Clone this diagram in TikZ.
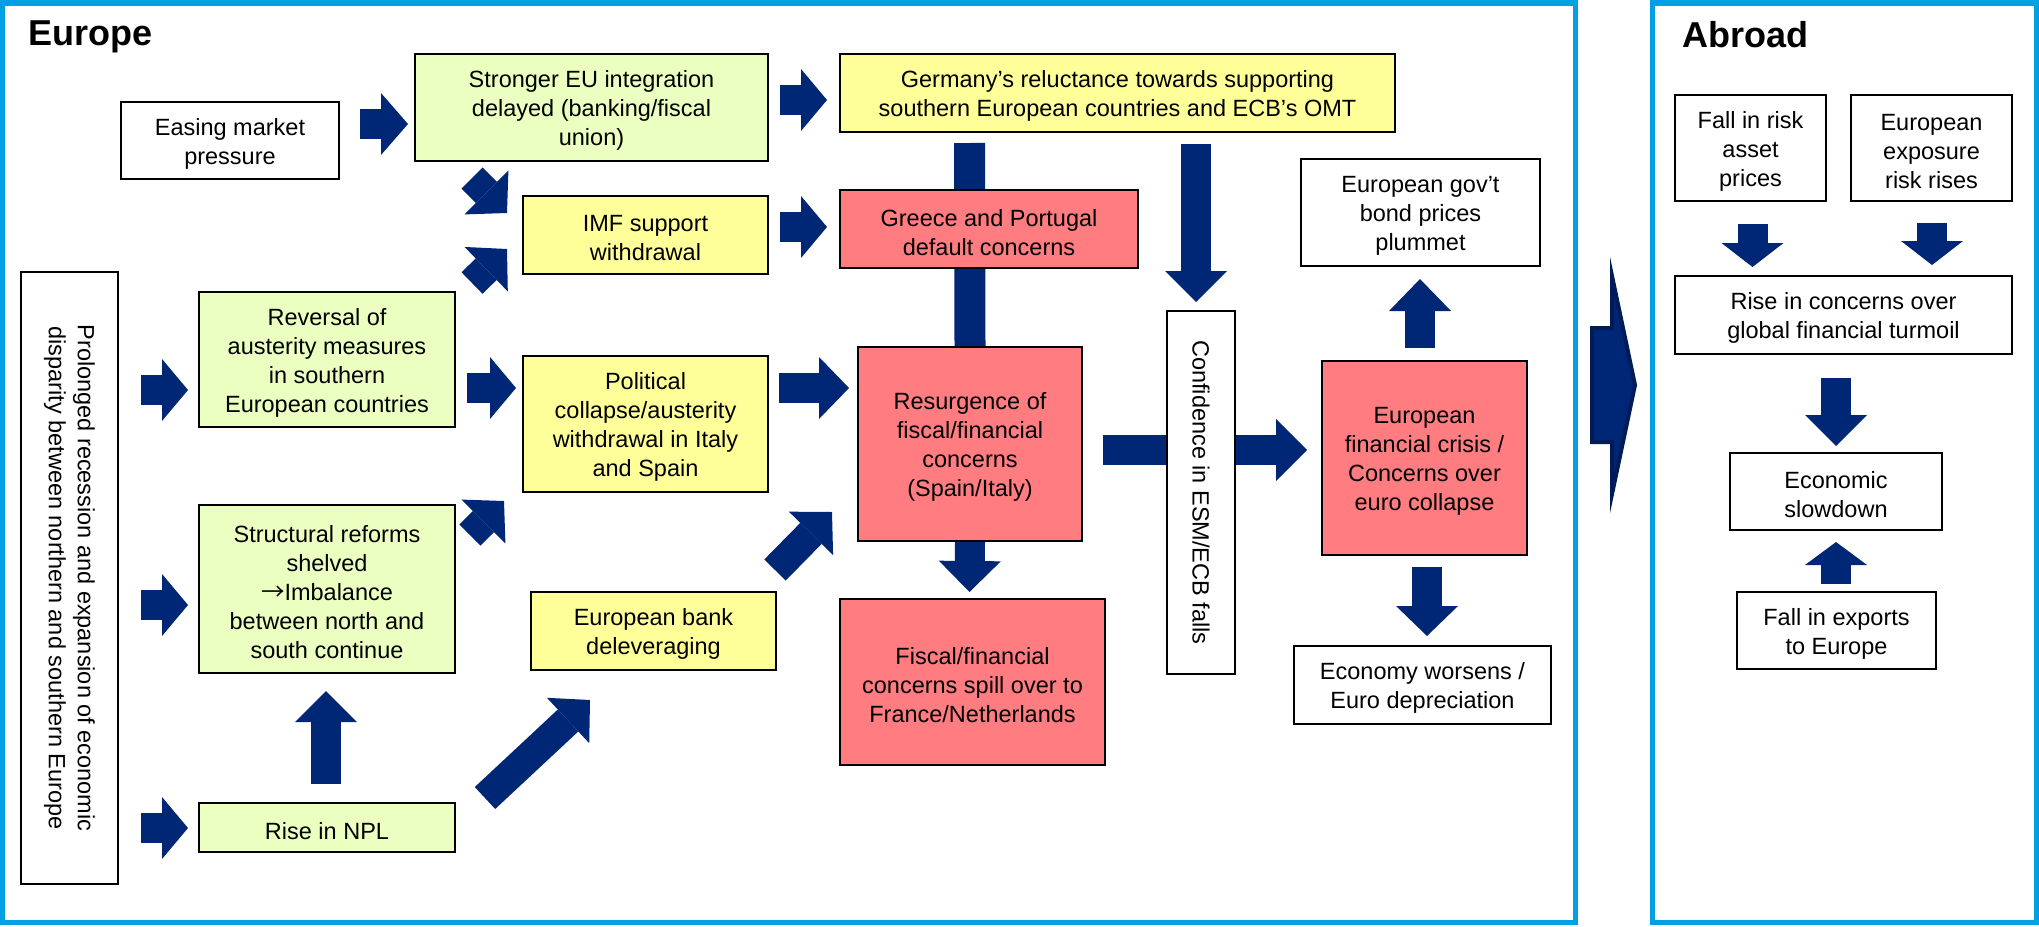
\documentclass[tikz,border=0pt]{standalone}
\usepackage{fontspec}
\setmainfont{Liberation Sans}
\newfontfamily\cjkarrow{Noto Sans CJK JP}
\usetikzlibrary{arrows.meta}
\definecolor{navy}{RGB}{0,38,118}
\definecolor{navydark}{RGB}{0,28,88}
\definecolor{frameblue}{RGB}{0,160,226}
\definecolor{lgreen}{RGB}{235,255,193}
\definecolor{lyellow}{RGB}{255,255,153}
\definecolor{lred}{RGB}{255,124,128}
\pgfdeclarelayer{back}
\pgfsetlayers{back,main}
% \bx{name}{style}{x1}{y1}{x2}{y2}{text}
\newcommand\bx[7]{\node[#2, minimum width={(#5-#3)*0.5pt}, minimum height={(#6-#4)*0.5pt}] (#1) at ({(#3+#5)/2},{(#4+#6)/2}) {};
  \node[txt] (#1-text) at ([yshift=-1.6pt]#1.center) {#7};}
\begin{document}
\begin{tikzpicture}[x=0.5pt,y=-0.5pt,
  box/.style={draw=black, line width=1pt, inner sep=0pt},
  txt/.style={align=center, inner sep=0pt, font=\fontsize{11.75}{14.5}\selectfont},
  gbox/.style={box, fill=lgreen},
  ybox/.style={box, fill=lyellow},
  rbox/.style={box, fill=lred},
  wbox/.style={box, fill=white},
  rot/.style={txt, rotate=-90},
  blk/.style={draw=navy, line width=15pt, -{Triangle[width=31pt,length=#1,line width=0pt]}},
  blk/.default=14pt,
  bar/.style={draw=navy, line width=15.5pt},
  frame/.style={draw=frameblue, line width=2.5pt, inner sep=0pt},
  title/.style={font=\fontsize{18}{21}\selectfont\bfseries, anchor=base west, inner sep=0pt},
  bigarrow/.style={fill=navy, draw=navydark, line width=2pt, line join=miter}
]
\useasboundingbox (0,0) rectangle (2039,926);

% frames
\bx{europeframe}{frame}{2.5}{3}{1575.5}{922}{}
\bx{abroadframe}{frame}{1652.5}{3}{2036}{922}{}
\node[title] (europetitle) at (28,46) {Europe};
\node[title] (abroadtitle) at (1682,47) {Abroad};

% Europe boxes
\bx{easing}{wbox}{121}{102}{339}{179}{Easing market\\pressure}
\bx{stronger}{gbox}{415}{54}{768}{161}{Stronger EU integration\\delayed (banking/fiscal\\union)}
\bx{germany}{ybox}{840}{54}{1395}{132}{Germany’s reluctance towards supporting\\southern European countries and ECB’s OMT}
\bx{imf}{ybox}{523}{196}{768}{274}{IMF support\\withdrawal}
\bx{greece}{rbox}{840}{190}{1138}{268}{Greece and Portugal\\default concerns}
\bx{prolonged}{wbox}{21}{272}{118}{884}{}
\node[rot] (prolongedtext) at (prolonged.center) {Prolonged recession and expansion of economic\\disparity between northern and southern Europe};
\bx{reversal}{gbox}{199}{292}{455}{427}{Reversal of\\austerity measures\\in southern\\European countries}
\bx{political}{ybox}{523}{356}{768}{492}{Political\\collapse/austerity\\withdrawal in Italy\\and Spain}
\bx{resurgence}{rbox}{858}{347}{1082}{541}{Resurgence of\\fiscal/financial\\concerns\\(Spain/Italy)}
\bx{structural}{gbox}{199}{505}{455}{673}{Structural reforms\\shelved\\{\cjkarrow →}Imbalance\\between north and\\south continue}
\bx{bank}{ybox}{531}{592}{776}{670}{European bank\\deleveraging}
\bx{spill}{rbox}{840}{599}{1105}{765}{Fiscal/financial\\concerns spill over to\\France/Netherlands}
\bx{npl}{gbox}{199}{803}{455}{852}{Rise in NPL}
\bx{confidence}{wbox}{1167}{311}{1235}{674}{}
\node[rot] (confidencetext) at (confidence.center) {Confidence in ESM/ECB falls};
\bx{bond}{wbox}{1301}{159}{1540}{266}{European gov’t\\bond prices\\plummet}
\bx{crisis}{rbox}{1322}{361}{1527}{555}{European\\financial crisis /\\Concerns over\\euro collapse}
\bx{worsens}{wbox}{1294}{646}{1551}{724}{Economy worsens /\\Euro depreciation}

% Abroad boxes
\bx{fallrisk}{wbox}{1675}{95}{1826}{201}{Fall in risk\\asset\\prices}
\bx{exposure}{wbox}{1851}{95}{2012}{201}{European\\exposure\\risk rises}
\bx{rise}{wbox}{1675}{276}{2012}{354}{Rise in concerns over\\global financial turmoil}
\bx{slowdown}{wbox}{1730}{453}{1942}{530}{Economic\\slowdown}
\bx{exports}{wbox}{1737}{592}{1936}{669}{Fall in exports\\to Europe}

% arrow end points
\coordinate (a1s) at (360,124);   \coordinate (a1e) at (408,124);
\coordinate (a2s) at (780,100);   \coordinate (a2e) at (827,100);
\coordinate (a3s) at (780,227);   \coordinate (a3e) at (827,227);
\coordinate (a4s) at (779,388);   \coordinate (a4e) at (849,388);
\coordinate (a5s) at (467,388);   \coordinate (a5e) at (516,388);
\coordinate (a6s) at (141,390);   \coordinate (a6e) at (188,390);
\coordinate (a7s) at (141,605);   \coordinate (a7e) at (188,605);
\coordinate (a8s) at (141,828);   \coordinate (a8e) at (188,828);
\coordinate (a9s) at (326,784);   \coordinate (a9e) at (326,691);
\coordinate (a10s) at (485,798);  \coordinate (a10e) at (590,700);
\coordinate (a11s) at (472,178);  \coordinate (a11e) at (507,213);
\coordinate (a12s) at (472,283);  \coordinate (a12e) at (507,249);
\coordinate (a13s) at (470,535);  \coordinate (a13e) at (504,501);
\coordinate (a14s) at (775,570);  \coordinate (a14e) at (832,512);
\coordinate (a15s) at (1196,144); \coordinate (a15e) at (1196,302);
\coordinate (a16s) at (1103,450); \coordinate (a16e) at (1307,450);
\coordinate (a17e) at (969.5,592);
\coordinate (a18s) at (1420,348); \coordinate (a18e) at (1420,279);
\coordinate (a19s) at (1427,567); \coordinate (a19e) at (1427,636);
\coordinate (a20s) at (1752.5,224); \coordinate (a20e) at (1752.5,267);
\coordinate (a21s) at (1932,223); \coordinate (a21e) at (1932,265);
\coordinate (a22s) at (1836,378); \coordinate (a22e) at (1836,446);
\coordinate (a23s) at (1836,584); \coordinate (a23e) at (1836,542);
\coordinate (barstart) at (969.5,143);

\begin{pgfonlayer}{back}
\draw[blk=13.5pt] (a1s) -- (a1e);
\draw[blk=13pt] (a2s) -- (a2e);
\draw[blk=13pt] (a3s) -- (a3e);
\draw[blk=15pt] (a4s) -- (a4e);
\draw[blk=13pt] (a5s) -- (a5e);
\draw[blk=13pt] (a6s) -- (a6e);
\draw[blk=13pt] (a7s) -- (a7e);
\draw[blk=13pt] (a8s) -- (a8e);
\draw[blk=15.5pt] (a9s) -- (a9e);
\draw[blk=15pt] (a10s) -- (a10e);
\draw[blk=14.5pt] (a11s) -- (a11e);
\draw[blk=14.5pt] (a12s) -- (a12e);
\draw[blk=14.5pt] (a13s) -- (a13e);
\draw[blk=15pt] (a14s) -- (a14e);
\draw[blk=15.5pt] (a15s) -- (a15e);
\draw[blk=15.5pt] (a16s) -- (a16e);
\draw[blk=15.5pt] (resurgence.south) -- (a17e);
\draw[blk=16pt] (a18s) -- (a18e);
\draw[blk=15pt] (a19s) -- (a19e);
\draw[blk=12pt] (a20s) -- (a20e);
\draw[blk=12pt] (a21s) -- (a21e);
\draw[blk=15.5pt] (a22s) -- (a22e);
\draw[blk=11.5pt] (a23s) -- (a23e);
\draw[bar] (barstart) -- (resurgence.north);
\end{pgfonlayer}

% big arrow between panels
\filldraw[bigarrow] (1592,328) -- (1612,328) -- (1612,276) -- (1635,385) -- (1612,494) -- (1612,442) -- (1592,442) -- cycle;
\end{tikzpicture}
\end{document}
